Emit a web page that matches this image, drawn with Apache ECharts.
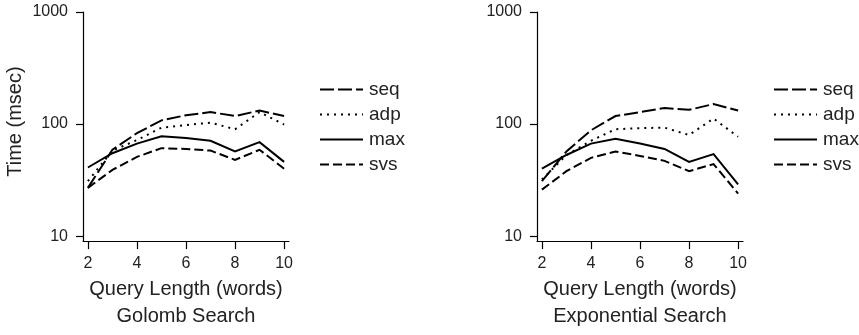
<!DOCTYPE html>
<html><head><meta charset="utf-8">
<script src="https://cdn.jsdelivr.net/npm/echarts@6/dist/echarts.min.js"></script>
<style>html,body{margin:0;padding:0;background:#fff}#c{width:859px;height:335px}</style>
</head><body><div id="c"></div>
<script>
const queryLengths = [2, 3, 4, 5, 6, 7, 8, 9, 10];
const golombSeq = [27, 59, 83, 108, 120, 128, 118, 132, 118];
const golombAdp = [31, 58, 72, 93, 98, 103, 90, 128, 99];
const golombMax = [41, 55, 67, 78, 75, 71, 57, 69, 46];
const golombSvs = [27, 39, 51, 61, 60, 58, 48, 59, 40];
const expSeq = [31, 57, 88, 118, 128, 139, 134, 151, 132];
const expAdp = [32, 53, 71, 90, 92, 93, 80, 112, 77];
const expMax = [40, 53, 67, 74, 67, 60, 46, 54, 29];
const expSvs = [26, 38, 50, 57, 52, 47, 38, 44, 24];
const xTicks = [2, 4, 6, 8, 10];
const yTicks = [10, 100, 1000];
const seriesNames = ['seq', 'adp', 'max', 'svs'];
const panelTitles = ['Golomb Search', 'Exponential Search'];
const xTitle = 'Query Length (words)';
const yTitle = 'Time (msec)';

const FONT = 'Liberation Sans, Arial, Helvetica, sans-serif';
const TXT = '#222';
const dashes = { seq: [14, 4], adp: [2, 5], max: 'solid', svs: [9, 4] };
const panels = [
  [golombSeq, golombAdp, golombMax, golombSvs],
  [expSeq, expAdp, expMax, expSvs]
];
const gridLefts = [83, 537];

const chart = echarts.init(document.getElementById('c'), null, { renderer: 'canvas' });

const grid = gridLefts.map(l => ({ left: l, top: 12, width: 206, height: 232, containLabel: false }));
const xAxis = gridLefts.map((l, i) => ({
  type: 'value', gridIndex: i, min: 1.8, max: 10.2,
  axisLine: { show: true, onZero: false, lineStyle: { color: '#000', width: 1.2 } },
  axisTick: { show: true, length: 8, customValues: xTicks, lineStyle: { color: '#000', width: 1.2 } },
  axisLabel: { customValues: xTicks, margin: 14, fontSize: 16, color: TXT, fontFamily: FONT,
    formatter: v => String(v) },
  splitLine: { show: false },
  name: xTitle + '\n' + panelTitles[i], nameLocation: 'middle', nameGap: 34,
  nameTextStyle: { fontSize: 20, lineHeight: 27, color: TXT, fontFamily: FONT }
}));
const yAxis = gridLefts.map((l, i) => ({
  type: 'log', logBase: 10, gridIndex: i, min: 9.04, max: 1000,
  axisLine: { show: true, onZero: false, lineStyle: { color: '#000', width: 1.2 } },
  axisTick: { show: true, length: 7, customValues: yTicks, lineStyle: { color: '#000', width: 1.2 } },
  axisLabel: { customValues: yTicks, margin: 15, fontSize: 16, color: TXT, fontFamily: FONT,
    formatter: v => String(Math.round(v)) },
  splitLine: { show: false },
  name: i === 0 ? yTitle : '', nameLocation: 'middle', nameGap: 58,
  nameTextStyle: { fontSize: 20, color: TXT, fontFamily: FONT, padding: [0, 0, 0, 10] }
}));
const series = [];
panels.forEach((vals, pi) => {
  vals.forEach((arr, si) => {
    const nm = seriesNames[si];
    series.push({
      type: 'line', name: nm, xAxisIndex: pi, yAxisIndex: pi,
      data: queryLengths.map((x, k) => [x, arr[k]]),
      symbol: 'none', smooth: false,
      lineStyle: { color: '#000', width: 2, type: dashes[nm], cap: 'butt', join: 'miter' },
      itemStyle: { color: '#000' }
    });
  });
});
const legend = [314, 768].map(l => ({
  data: seriesNames, left: l, top: 75, orient: 'vertical',
  itemWidth: 43, itemHeight: 20, itemGap: 6, selectedMode: false,
  itemStyle: { opacity: 0 },
  textStyle: { fontSize: 19, color: TXT, fontFamily: FONT, padding: [0, 0, 0, 1] }
}));

chart.setOption({ animation: false, backgroundColor: '#fff', grid, xAxis, yAxis, series, legend });
</script></body></html>
